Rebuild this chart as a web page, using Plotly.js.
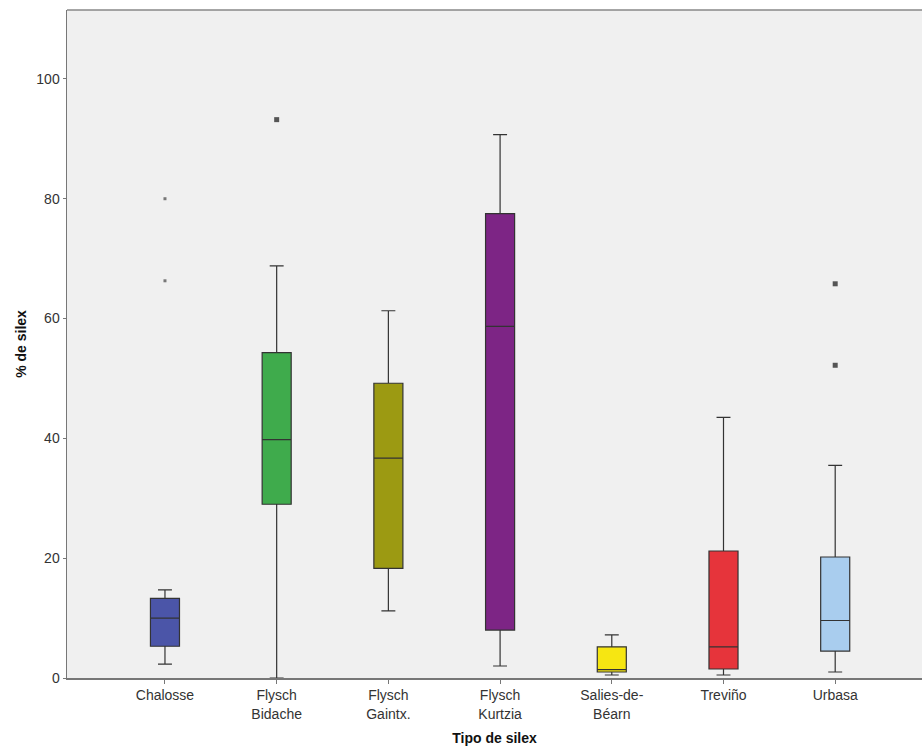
<!DOCTYPE html>
<html>
<head>
<meta charset="utf-8">
<script src="https://cdn.plot.ly/plotly-3.0.1.min.js"></script>
<style>html,body{margin:0;padding:0;background:#fff;}#chart{width:922px;height:750px;}</style>
</head>
<body>
<div id="chart"></div>
<script>
// Data
const categories = ["Chalosse", "Flysch<br>Bidache", "Flysch<br>Gaintx.", "Flysch<br>Kurtzia", "Salies-de-<br>Béarn", "Treviño", "Urbasa"];
const lowerWhisker = [2.3, 0.0, 11.2, 2.0, 0.5, 0.5, 1.0];
const q1Values     = [5.3, 29.0, 18.3, 8.0, 1.0, 1.5, 4.5];
const medianValues = [10.0, 39.8, 36.7, 58.7, 1.4, 5.2, 9.6];
const q3Values     = [13.3, 54.3, 49.2, 77.5, 5.2, 21.2, 20.2];
const upperWhisker = [14.7, 68.8, 61.3, 90.7, 7.2, 43.5, 35.5];
const boxColors    = ["#4b55a8", "#3fab4c", "#9c9a12", "#7d2585", "#f6e612", "#e6343b", "#a9cdee"];
// Outliers: [category index, value]
const outlierCat   = [1, 6, 6];
const outlierVal   = [93.2, 65.8, 52.2];
const extremeCat   = [0, 0];
const extremeVal   = [80.0, 66.3];

const traces = categories.map((c, i) => ({
  type: "box",
  x: [i],
  q1: [q1Values[i]],
  median: [medianValues[i]],
  q3: [q3Values[i]],
  lowerfence: [lowerWhisker[i]],
  upperfence: [upperWhisker[i]],
  width: 0.26,
  whiskerwidth: 0.48,
  fillcolor: boxColors[i],
  line: {color: "#333333", width: 1.2},
  boxpoints: false,
  hoverinfo: "skip",
  showlegend: false
}));

traces.push({
  type: "scatter", mode: "markers",
  x: outlierCat, y: outlierVal,
  marker: {symbol: "square", size: 5, color: "#555555"},
  showlegend: false, hoverinfo: "skip"
});
traces.push({
  type: "scatter", mode: "markers",
  x: extremeCat, y: extremeVal,
  marker: {symbol: "square", size: 3, color: "#777777"},
  showlegend: false, hoverinfo: "skip"
});

const layout = {
  width: 922, height: 750,
  margin: {l: 67, r: 0, t: 10, b: 72},
  paper_bgcolor: "#ffffff",
  plot_bgcolor: "#f0f0f0",
  font: {family: "Liberation Sans, Arial, sans-serif", size: 14, color: "#222"},
  xaxis: {
    range: [-0.877, 6.777],
    tickvals: categories.map((c, i) => i),
    ticktext: categories,
    ticks: "outside", ticklen: 4, tickcolor: "#777",
    showline: true, linecolor: "#777", linewidth: 1.5,
    showgrid: false, zeroline: false,
    tickfont: {size: 14, color: "#333"},
    title: {text: "<b>Tipo de silex</b>", font: {size: 14, color: "#111"}, standoff: 12}
  },
  yaxis: {
    range: [0, 111.5],
    tickvals: [0, 20, 40, 60, 80, 100],
    ticks: "outside", ticklen: 3, tickcolor: "#777",
    showline: true, linecolor: "#777", linewidth: 1.5,
    showgrid: false, zeroline: false,
    tickfont: {size: 14, color: "#333"},
    title: {text: "<b>% de silex</b>", font: {size: 14, color: "#111"}, standoff: 6}
  },
  shapes: [{
    type: "line", xref: "paper", yref: "paper",
    x0: 0, x1: 1, y0: 1, y1: 1,
    line: {color: "#888", width: 1.5}
  }]
};

Plotly.newPlot("chart", traces, layout, {staticPlot: true, displayModeBar: false});
</script>
</body>
</html>
